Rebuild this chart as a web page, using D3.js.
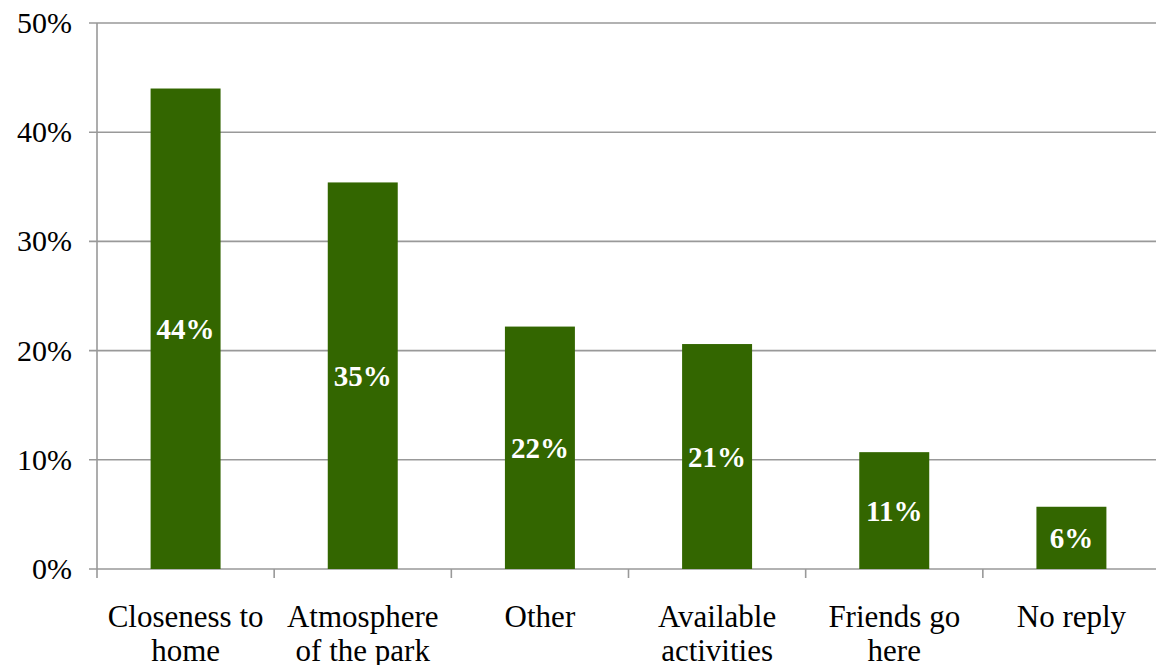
<!DOCTYPE html>
<html>
<head>
<meta charset="utf-8">
<script src="https://cdn.jsdelivr.net/npm/d3@7"></script>
<style>
  body { margin: 0; background: #fff; }
</style>
</head>
<body>
<script>
// chart data
var categories = [["Closeness to", "home"], ["Atmosphere", "of the park"], ["Other"],
                  ["Available", "activities"], ["Friends go", "here"], ["No reply"]];
var values = [0.44, 0.354, 0.222, 0.206, 0.107, 0.057];
var labels = ["44%", "35%", "22%", "21%", "11%", "6%"];
var yTicks = [0, 0.1, 0.2, 0.3, 0.4, 0.5];

var font = "'Liberation Serif'";

// Width and height
var width = 1156, height = 665;
var margin = {top: 23, right: -4, bottom: 96, left: 97};
var inner_w = width - margin.left - margin.right;
var inner_h = height - margin.top - margin.bottom;

var svg = d3.select("body").append("svg")
    .attr("width", width)
    .attr("height", height);

var g = svg.append("g")
    .attr("transform", "translate(" + margin.left + "," + margin.top + ")");

var yScale = d3.scaleLinear().domain([0, 0.5]).range([inner_h, 0]);
var xScale = d3.scaleBand().domain(d3.range(categories.length))
    .range([0, inner_w]).paddingInner(0.605).paddingOuter(0.3025);

// gridlines
g.selectAll(".grid").data(yTicks).enter().append("line")
    .attr("x1", -8).attr("x2", inner_w)
    .attr("y1", function(d) { return yScale(d); })
    .attr("y2", function(d) { return yScale(d); })
    .attr("stroke", "#999").attr("stroke-width", 1.6);

// y axis line
g.append("line")
    .attr("x1", 0).attr("x2", 0).attr("y1", 0).attr("y2", inner_h)
    .attr("stroke", "#999").attr("stroke-width", 1.6);

// y tick labels
g.selectAll(".ylab").data(yTicks).enter().append("text")
    .attr("x", -25)
    .attr("y", function(d) { return yScale(d); })
    .attr("dy", "0.33em")
    .attr("text-anchor", "end")
    .style("font-family", font)
    .style("font-size", "30px")
    .style("fill", "#000")
    .text(function(d) { return Math.round(d * 100) + "%"; });

// x ticks between categories
var step = inner_w / categories.length;
g.selectAll(".xtick").data(d3.range(categories.length + 1)).enter().append("line")
    .attr("x1", function(d) { return d * step; })
    .attr("x2", function(d) { return d * step; })
    .attr("y1", inner_h).attr("y2", inner_h + 9)
    .attr("stroke", "#999").attr("stroke-width", 1.6);

// bars
g.selectAll(".bar").data(values).enter().append("rect")
    .attr("x", function(d, i) { return xScale(i); })
    .attr("y", function(d) { return yScale(d); })
    .attr("width", xScale.bandwidth())
    .attr("height", function(d) { return inner_h - yScale(d); })
    .attr("fill", "#336600");

// value labels in the middle of each bar
g.selectAll(".vlab").data(values).enter().append("text")
    .attr("x", function(d, i) { return xScale(i) + xScale.bandwidth() / 2; })
    .attr("y", function(d) { return (yScale(d) + inner_h) / 2; })
    .attr("dy", "0.35em")
    .attr("text-anchor", "middle")
    .style("font-family", font)
    .style("font-size", "29px")
    .style("font-weight", "bold")
    .style("fill", "#fff")
    .text(function(d, i) { return labels[i]; });

// category labels
var cat = g.selectAll(".clab").data(categories).enter().append("text")
    .attr("text-anchor", "middle")
    .style("font-family", font)
    .style("font-size", "31px")
    .style("fill", "#000")
    .attr("transform", function(d, i) {
        return "translate(" + (xScale(i) + xScale.bandwidth() / 2) + "," + (inner_h + 58) + ")";
    });
cat.selectAll("tspan").data(function(d) { return d; }).enter().append("tspan")
    .attr("x", 0)
    .attr("y", function(d, i) { return i * 34; })
    .text(function(d) { return d; });
</script>
</body>
</html>
